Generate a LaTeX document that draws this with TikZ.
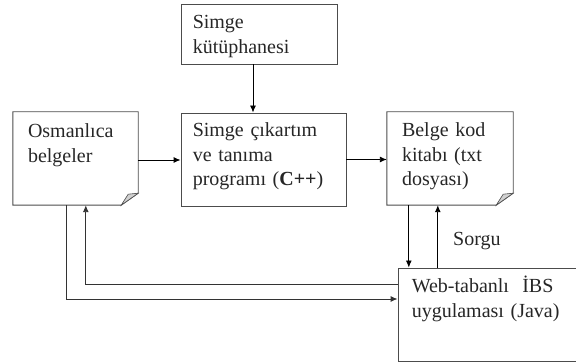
\documentclass[tikz,border=0pt]{standalone}
\usepackage{fontspec}
\setmainfont{Liberation Serif}
\usetikzlibrary{arrows.meta,calc}
\begin{document}
\begin{tikzpicture}[x=1pt,y=-1pt,
  box/.style={draw=black!70,line width=0.9pt,rectangle,inner sep=0pt},
  ghost/.style={rectangle,inner sep=0pt},
  fold/.style={draw=black!70,line width=0.9pt},
  lbl/.style={inner sep=0pt,anchor=base west,align=left,text width=170pt,font=\fontsize{20}{24.5}\selectfont,text=black!85},
  arr/.style={draw=black,line width=0.9pt,-{Latex[length=7pt,width=6pt]}},
  ln/.style={draw=black!80,line width=0.9pt}]
\useasboundingbox (0,0) rectangle (576,363);
\clip (0,0) rectangle (576,363);
% boxes
\node[box,minimum width=156pt,minimum height=60pt] (lib) at (259,34) {};
\node[box,minimum width=165pt,minimum height=93pt] (prog) at (263.5,159.5) {};
\node[ghost,minimum width=125pt,minimum height=93pt] (osm) at (75.5,158.5) {};
\node[ghost,minimum width=126pt,minimum height=93pt] (belge) at (450,158.5) {};
\node[box,minimum width=200pt,minimum height=93pt] (web) at (498,314.5) {};
% folded-corner outlines
\foreach \n in {osm,belge}{
  \draw[fold] ($(\n.south east)+(-17pt,0)$) -- (\n.south west) -- (\n.north west) -- (\n.north east) -- ($(\n.south east)+(0,12pt)$) -- cycle;
  \draw[fold,fill=black!18,line width=0.6pt] ($(\n.south east)+(-17pt,0)$) -- ($(\n.south east)+(-10pt,11pt)$) -- ($(\n.south east)+(0,12pt)$) -- cycle;
}
% texts
\node[lbl] (libT) at ($(lib.north west)+(12pt,-25pt)$) {Simge\\kütüphanesi};
\node[lbl] (osmT) at ($(osm.north west)+(15pt,-26pt)$) {Osmanlıca\\belgeler};
\node[lbl] (progT) at ($(prog.north west)+(12pt,-24pt)$) {Simge çıkartım\\ve tanıma\\programı (\textbf{C++})};
\node[lbl] (belgeT) at ($(belge.north west)+(15pt,-25pt)$) {Belge kod\\kitabı (txt\\dosyası)};
\node[lbl] (webT) at ($(web.north west)+(14pt,-25pt)$) {Web-tabanlı\ \ İBS\\uygulaması (Java)};
\node[lbl] (sorgu) at (453,246) {Sorgu};
% connectors
\draw[arr] ([xshift=-6pt]lib.south) -- ([xshift=-6pt]lib.south |- prog.north);
\draw[arr] ([yshift=-1.5pt]osm.east) -- ([yshift=-1.5pt]osm.east -| prog.west);
\draw[arr] (prog.east) -- (prog.east -| belge.west);
\coordinate (oDown) at ($(osm.south west)+(54pt,0)$);
\coordinate (oUp) at ($(osm.south west)+(73pt,0)$);
\draw[ln,-{Latex[length=7pt,width=6pt]}] (oDown) -- (oDown |- 0,299) -- (web.west |- 0,299);
\draw[ln,-{Latex[length=7pt,width=6pt]}] (web.west |- 0,284) -- (oUp |- 0,284) -- (oUp);
\coordinate (bDown) at ($(belge.south west)+(22pt,0)$);
\coordinate (bUp) at ($(belge.south west)+(51pt,0)$);
\draw[arr] (bDown) -- (bDown |- web.north);
\draw[arr] (bUp |- web.north) -- (bUp);
\end{tikzpicture}
\end{document}
